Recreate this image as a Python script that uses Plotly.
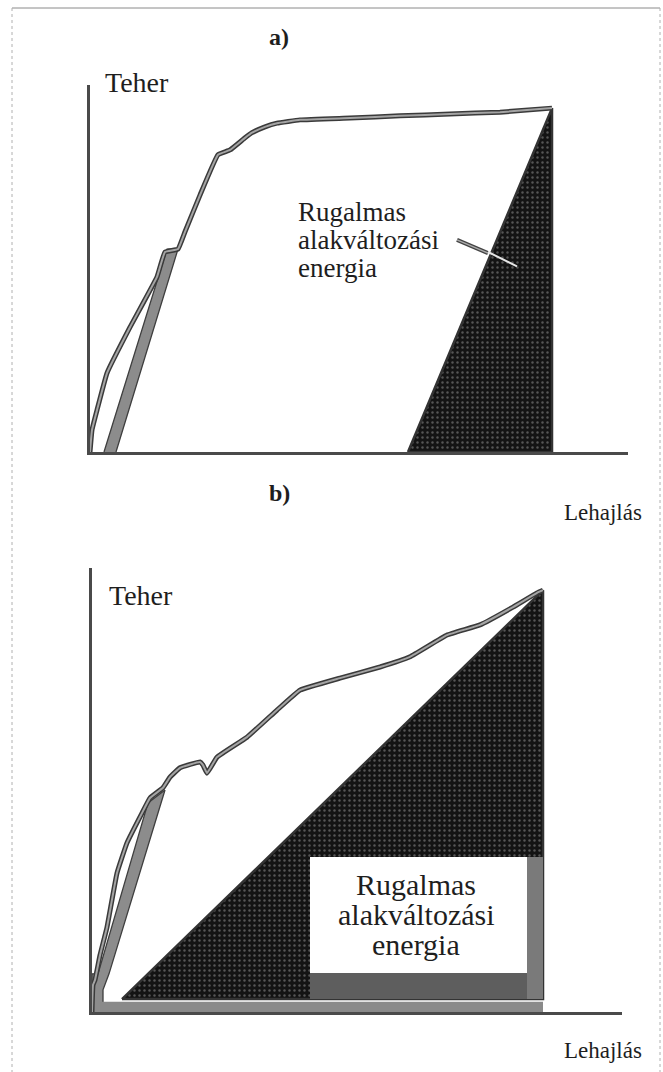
import plotly.graph_objects as go

W, H = 663, 1072

# ---------------- data: load (Teher) vs. deflection (Lehajlás) ----------------
# a) ductile behaviour – plateau after yielding
a_defl = [0, 0.4, 1.4, 3.4, 8, 13.4, 15, 17.6, 19, 22, 25.6, 28, 31, 32.4,
          35, 37.4, 42, 52, 62, 72, 82, 92.4]
a_load = [0, 6, 11.4, 21.5, 34, 47.7, 54.5, 55.3, 60, 70, 81, 82.3, 85.6, 87,
          88.6, 89.6, 90.5, 91, 91.6, 92.1, 92.6, 93.7]
# unloading / reloading loop at the end of the elastic stage
a_loop_defl = [2.8, 15.4, 17.6, 5.2]
a_loop_load = [0, 55.3, 55.3, 0]
# elastic (recoverable) energy triangle
a_elastic_defl = [63.6, 92.4, 92.4]
a_elastic_load = [0, 93.7, 0]

# b) hardening behaviour – load keeps rising
b_defl = [0, 0.2, 0.6, 1.6, 3, 5, 7, 10, 11.6, 14.2, 15.6, 17.6, 21.6, 22.2,
          23, 25, 31, 37, 41.6, 49.6, 57.6, 63.6, 71, 77.6, 84.2, 89, 90.2]
b_load = [0, 6.1, 7.2, 12.8, 19.1, 31.3, 38.1, 44.8, 48.2, 50.5, 52.9, 55,
          56.3, 55.6, 53.8, 57.4, 61.9, 68, 72.5, 75.2, 77.7, 80, 84.9, 87.2,
          91.2, 94.4, 95]
b_loop_defl = [0, 0, 1.2, 11.2, 14.6, 3.4, 2.2, 2.2]
b_loop_load = [0, 8.6, 8.6, 47.1, 50, 8.6, 5, 0]
b_elastic_defl = [6, 90.2, 90.2]
b_elastic_load = [2.9, 95, 2.9]

label_lines = ["Rugalmas", "alakváltozási", "energia"]

# ---------------- figure ----------------
SERIF = "Liberation Serif"
INK = "#3a3a3a"
fig = go.Figure()


def P(x, y):
    """pixel position -> paper fraction"""
    return x / W, 1 - y / H


def curve(x, y, xa, ya):
    # double-stroke line: dark edge with lighter core
    fig.add_trace(go.Scatter(x=x, y=y, mode="lines", xaxis=xa, yaxis=ya,
                             line=dict(color=INK, width=5, shape="spline", smoothing=0.3),
                             hoverinfo="skip", showlegend=False, cliponaxis=False))
    fig.add_trace(go.Scatter(x=x, y=y, mode="lines", xaxis=xa, yaxis=ya,
                             line=dict(color="#a4a4a4", width=2, shape="spline", smoothing=0.3),
                             hoverinfo="skip", showlegend=False, cliponaxis=False))


def loop(x, y, xa, ya):
    fig.add_trace(go.Scatter(x=x, y=y, mode="lines", fill="toself", xaxis=xa, yaxis=ya,
                             fillcolor="#8c8c8c", line=dict(color="#3e3e3e", width=1.3),
                             hoverinfo="skip", showlegend=False))


def elastic(x, y, xa, ya):
    fig.add_trace(go.Scatter(x=x + [x[0]], y=y + [y[0]], mode="lines", fill="toself",
                             xaxis=xa, yaxis=ya, fillcolor="#141414",
                             fillpattern=dict(shape=".", bgcolor="#131313", fgcolor="#9a9a9a",
                                              size=5, solidity=0.18),
                             line=dict(color="#333333", width=2.5),
                             hoverinfo="skip", showlegend=False))


# panel a
loop(a_loop_defl, a_loop_load, "x", "y")
elastic(a_elastic_defl, a_elastic_load, "x", "y")
curve(a_defl, a_load, "x", "y")
# pointer from the label into the triangle
arrow_x, arrow_y = [73.4, 79.6], [57.8, 54.2]
fig.add_trace(go.Scatter(x=arrow_x, y=arrow_y, mode="lines", xaxis="x", yaxis="y",
                         line=dict(color="#444", width=4), hoverinfo="skip", showlegend=False))
fig.add_trace(go.Scatter(x=arrow_x, y=arrow_y, mode="lines", xaxis="x", yaxis="y",
                         line=dict(color="#aaa", width=1.5), hoverinfo="skip", showlegend=False))
fig.add_trace(go.Scatter(x=[79.6, 85.4], y=[54.5, 50.6], mode="lines", xaxis="x", yaxis="y",
                         line=dict(color="#e6e6e6", width=2), hoverinfo="skip", showlegend=False))

# panel b
loop(b_loop_defl, b_loop_load, "x2", "y2")
elastic(b_elastic_defl, b_elastic_load, "x2", "y2")
curve(b_defl, b_load, "x2", "y2")

fig.update_layout(
    width=W, height=H, margin=dict(l=0, r=0, t=0, b=0),
    paper_bgcolor="white", plot_bgcolor="rgba(0,0,0,0)",
    showlegend=False,
    xaxis=dict(domain=[90 / W, 628 / W], range=[0, 107.6], anchor="y"),
    yaxis=dict(domain=[1 - 452 / H, 1 - 85 / H], range=[0, 100], anchor="x"),
    xaxis2=dict(domain=[92 / W, 622 / W], range=[0, 106], anchor="y2"),
    yaxis2=dict(domain=[1 - 1012 / H, 1 - 568 / H], range=[0, 100], anchor="x2"),
)
for ax in ("xaxis", "yaxis", "xaxis2", "yaxis2"):
    fig.layout[ax].update(showline=True, linecolor="#4a4a4a", linewidth=3,
                          showgrid=False, zeroline=False, showticklabels=False,
                          ticks="", fixedrange=True)

shapes = []
# gray strips around the white label box in panel b
shapes.append(dict(type="rect", xref="x2", yref="y2", x0=1.6, x1=90.2, y0=0, y1=2.3,
                   fillcolor="#8a8a8a", line=dict(width=0), layer="above"))
shapes.append(dict(type="rect", xref="x2", yref="y2", x0=43.6, x1=87, y0=2.9, y1=8.8,
                   fillcolor="#5e5e5e", line=dict(width=0), layer="above"))
shapes.append(dict(type="rect", xref="x2", yref="y2", x0=87, x1=90.2, y0=2.9, y1=34.9,
                   fillcolor="#7a7a7a", line=dict(width=0), layer="above"))
shapes.append(dict(type="rect", xref="x2", yref="y2", x0=43.6, x1=87, y0=8.8, y1=34.9,
                   fillcolor="white", line=dict(width=0), layer="above"))
# page frame
x0, y0 = P(12, 8)
x1, _ = P(660, 8)
shapes.append(dict(type="line", xref="paper", yref="paper", x0=x0, x1=x1, y0=y0, y1=y0,
                   line=dict(color="#8a8a8a", width=1)))
for xx in (12, 660):
    px, _ = P(xx, 0)
    shapes.append(dict(type="line", xref="paper", yref="paper", x0=px, x1=px, y0=y0, y1=0,
                       line=dict(color="#b0b0b0", width=1, dash="dot")))
fig.update_layout(shapes=shapes)

ann = []


def text(t, x, y, size, anchor="left", bold=False):
    px, py = P(x, y)
    ann.append(dict(text=f"<b>{t}</b>" if bold else t, x=px, y=py, xref="paper", yref="paper",
                    xanchor=anchor, yanchor="middle", showarrow=False,
                    font=dict(family=SERIF, size=size, color="#1e1e1e")))


text("a)", 279, 37, 24, "center", bold=True)
text("b)", 279, 493, 24, "center", bold=True)
text("Teher", 103, 82, 28)
text("Teher", 107, 595, 28)
text("Lehajlás", 562, 512, 23)
text("Lehajlás", 562, 1050, 23)
for i, line in enumerate(label_lines):
    text(line, 296, 212 + 28 * i, 27)
    text(line, 416, 884 + 30 * i, 30, "center")
fig.update_layout(annotations=ann)

fig.write_html("out.html")
